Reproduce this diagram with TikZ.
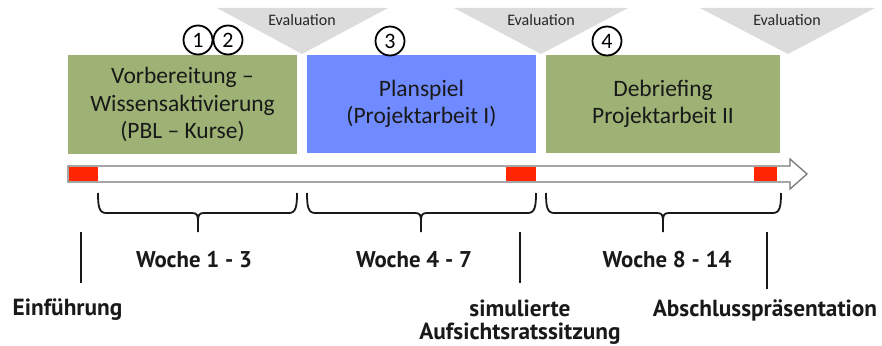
\documentclass[tikz,border=0pt]{standalone}
\usepackage{fontspec}
\setmainfont{Carlito}
\newfontfamily\lblfont{PT Sans}
\definecolor{pgreen}{RGB}{157,178,116}
\definecolor{pblue}{RGB}{112,138,255}
\definecolor{evalgray}{RGB}{220,220,220}
\definecolor{tlred}{RGB}{255,38,0}
\definecolor{arrowgray}{RGB}{120,120,120}
\newcommand\tlbrace[3]{%
  \draw[bracestyle] (#1,193) .. controls (#1,206) and ({#1+1},213) .. ({#1+8},213) -- ({#3-6},213)
    .. controls ({#3-1},213) and (#3,215) .. (#3,222) -- (#3,232);
  \draw[bracestyle] (#3,222) .. controls (#3,215) and ({#3+1},213) .. ({#3+6},213) -- ({#2-8},213)
    .. controls ({#2-1},213) and (#2,206) .. (#2,193);
}
\begin{document}
\begin{tikzpicture}[x=1pt,y=-1pt,
  phase/.style={inner sep=0pt, align=center, text=black!90,
    font=\fontsize{23.5}{27.5}\selectfont},
  evaltext/.style={anchor=base, inner sep=0pt, text=black!85, font=\fontsize{16}{18}\selectfont},
  numcirc/.style={circle, draw=black, line width=1.8pt, minimum size=29pt, inner sep=0pt,
    font=\fontsize{22}{22}\selectfont},
  bracestyle/.style={line width=1.8pt, black!90},
  tickline/.style={line width=1.8pt, black!90},
  wlbl/.style={anchor=base, inner sep=0pt, text=black!90, font=\lblfont\bfseries\fontsize{22.8}{26}\selectfont},
  blbl/.style={anchor=base, inner sep=0pt, text=black!90, font=\lblfont\bfseries\fontsize{23.3}{26}\selectfont},
]
\useasboundingbox (0,0) rectangle (882,345);
% evaluation triangles
\fill[evalgray] (217,8) -- (388,8) -- (302,54) -- cycle;
\fill[evalgray] (454,8) -- (628,8) -- (541,54) -- cycle;
\fill[evalgray] (700,8) -- (875,8) -- (788,54) -- cycle;
\node[evaltext] (e1) at (302,26) {Evaluation};
\node[evaltext] (e2) at (541,26) {Evaluation};
\node[evaltext] (e3) at (787,26) {Evaluation};
% phase boxes
\node[phase, fill=pgreen, minimum width=229pt, minimum height=99pt] (b1) at (182.5,104.5)
  {Vorbereitung –\\Wissensaktivierung\\(PBL – Kurse)};
\node[phase, fill=pblue, minimum width=229pt, minimum height=98pt] (b2) at (421.5,104)
  {Planspiel\\(Projektarbeit I)};
\node[phase, fill=pgreen, minimum width=234pt, minimum height=98pt] (b3) at (663,104)
  {Debriefing\\Projektarbeit II};
% numbers
\node[numcirc] (n1) at (198,40) {1};
\node[numcirc] (n2) at (228,40) {2};
\node[numcirc] (n3) at (390,41) {3};
\node[numcirc] (n4) at (607,41) {4};
% timeline arrow
\draw[arrowgray, line width=1.3pt, fill=white, line join=miter]
  (68,166) -- (790,166) -- (790,159) -- (807,174) -- (790,189) -- (790,182) -- (68,182) -- cycle;
\fill[tlred] (68.7,166.7) rectangle (98,181.3);
\fill[tlred] (506,166.7) rectangle (536,181.3);
\fill[tlred] (754,166.7) rectangle (777,181.3);
% braces
\tlbrace{98}{297}{198}
\tlbrace{307}{536}{421}
\tlbrace{546}{781}{663}
% week labels
\node[wlbl] (w1) at (194,267) {Woche 1 - 3};
\node[wlbl] (w2) at (414,267) {Woche 4 - 7};
\node[wlbl] (w3) at (667,267) {Woche 8 - 14};
% ticks
\coordinate (t1a) at (81,232); \coordinate (t1b) at (81,283);
\coordinate (t2a) at (520,232); \coordinate (t2b) at (520,283);
\coordinate (t3a) at (767,232); \coordinate (t3b) at (767,289);
\draw[tickline] (t1a) -- (t1b);
\draw[tickline] (t2a) -- (t2b);
\draw[tickline] (t3a) -- (t3b);
% bottom labels
\node[blbl] (l1) at (67.5,315) {Einführung};
\node[blbl] (l2) at (520,316) {simulierte};
\node[blbl] (l3) at (520,339) {Aufsichtsratssitzung};
\node[blbl] (l4) at (765,316) {Abschlusspräsentation};
\end{tikzpicture}
\end{document}
